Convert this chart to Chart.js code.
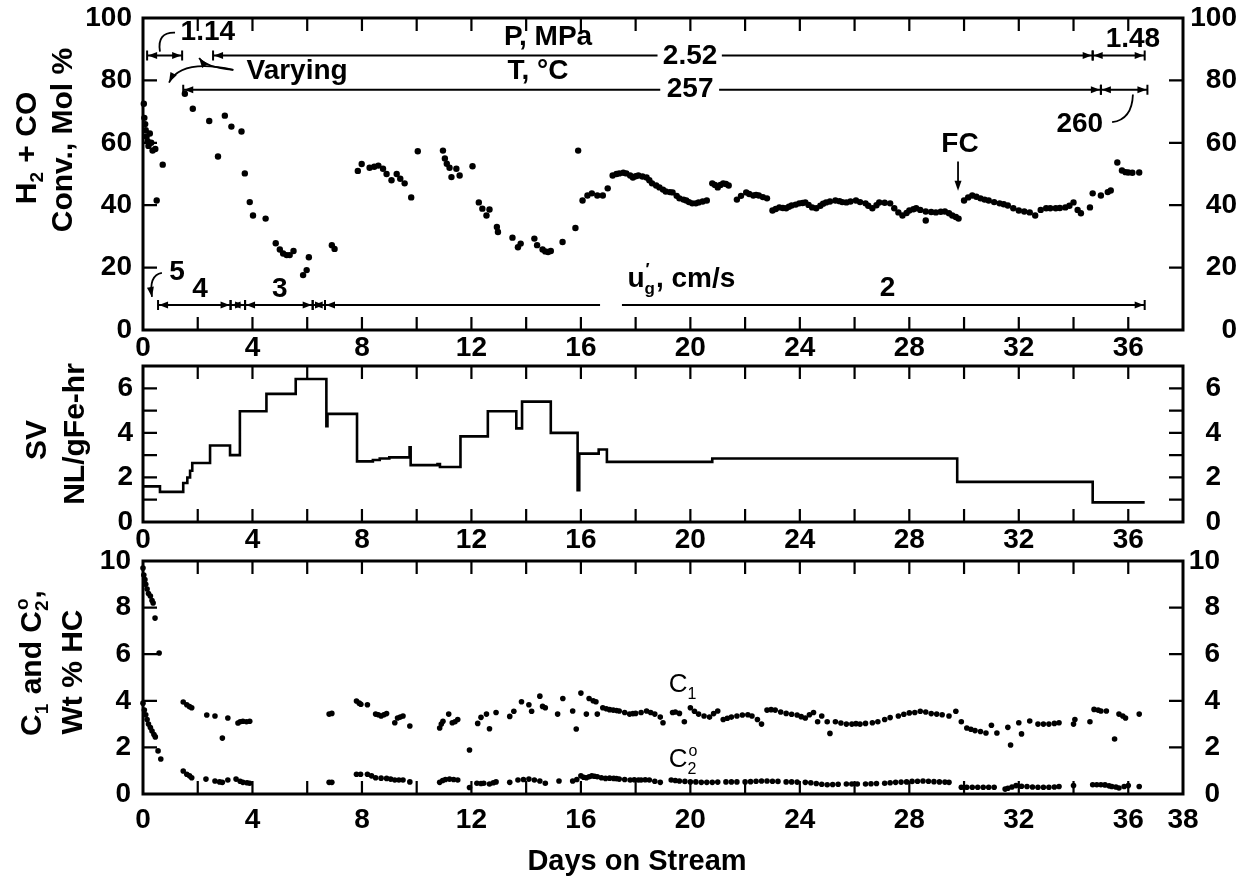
<!DOCTYPE html>
<html><head><meta charset="utf-8">
<script src="https://cdn.jsdelivr.net/npm/chart.js@4.4.1/dist/chart.umd.min.js"></script>
<style>
html,body{margin:0;padding:0;background:#fff;}
body{width:1255px;height:880px;position:relative;overflow:hidden;}
canvas{position:absolute;left:0;}
</style></head>
<body>
<canvas id="c1" width="1255" height="362" style="top:0px;width:1255px;height:362px"></canvas>
<canvas id="c2" width="1255" height="210" style="top:346px;width:1255px;height:210px"></canvas>
<canvas id="c3" width="1255" height="340" style="top:540px;width:1255px;height:340px"></canvas>
<script>
// ---------- DATA ----------
// Panel 1: H2 + CO conversion, mol %
const convDays = [0.03,0.05,0.08,0.1,0.13,0.17,0.2,0.25,0.3,0.35,0.45,0.5,0.72,1.53,1.82,2.42,2.74,2.99,3.23,3.6,3.72,3.9,4.02,4.48,4.85,5.0,5.12,5.25,5.36,5.5,5.85,5.98,6.06,6.9,7.0,7.85,7.99,8.28,8.45,8.6,8.77,8.9,9.08,9.27,9.4,9.56,9.8,10.04,10.96,11.03,11.1,11.2,11.27,11.45,11.57,12.04,12.27,12.4,12.55,12.66,12.93,12.97,13.5,13.7,13.8,14.3,14.4,14.6,14.7,14.8,14.9,15.33,15.8,15.9,16.06,16.24,16.4,16.6,16.8,16.98,17.16,17.3,17.4,17.55,17.66,17.8,17.9,18.0,18.1,18.25,18.4,18.5,18.6,18.75,18.87,19.0,19.1,19.25,19.35,19.5,19.6,19.75,19.85,19.95,20.07,20.2,20.3,20.45,20.6,20.8,20.9,21.0,21.1,21.2,21.3,21.4,21.7,21.85,22.04,22.15,22.3,22.4,22.5,22.65,22.8,23.0,23.12,23.25,23.38,23.5,23.6,23.7,23.85,23.98,24.1,24.2,24.32,24.45,24.6,24.75,24.85,24.96,25.1,25.3,25.45,25.55,25.7,25.85,26.05,26.2,26.4,26.5,26.65,26.8,26.9,27.1,27.3,27.45,27.6,27.75,27.9,28.0,28.15,28.25,28.4,28.6,28.6,28.8,28.97,29.15,29.3,29.45,29.57,29.7,29.8,30.0,30.15,30.3,30.45,30.6,30.75,30.9,31.1,31.3,31.45,31.6,31.8,32.0,32.2,32.4,32.6,32.8,33.0,33.15,33.35,33.5,33.7,33.85,34.0,34.15,34.27,34.6,34.7,35.0,35.25,35.36,35.6,35.77,35.9,36.0,36.15,36.4];
const convPct = [72.5,68,66,64,62,60.5,59,63,60,57.5,58,41.5,53,75.7,70.9,67,55.6,68.7,65.2,63.6,50.2,41,36.7,35.7,27.8,25.8,24.5,24,24,25.3,17.6,19.2,23.3,27.2,26,51,53.2,52,52.3,52.7,51.7,50,48,50,48.5,47,42.5,57.3,57.5,55,53.3,52,49,51.7,49.5,52.5,40.9,38.9,36.7,38.6,33,31.4,29.6,26.5,27.7,29.3,27.2,25.8,25.2,25,25.3,28.2,32.7,57.5,41.5,43.1,43.8,43.1,43.1,45.4,49.5,50,50.2,50.4,50.2,49.5,48.9,49.3,49.5,49.2,48.9,48,47,46.3,45.7,45,44.4,44.2,44.1,43,42.2,41.8,41.5,41,40.6,40.6,40.9,41.2,41.5,47,46.5,45.7,46.5,47,46.8,46.3,41.8,43,44.1,43.6,43.1,43.3,43.1,42.6,42.2,38.3,38.8,39.3,39.1,39,39.5,39.9,40.2,40.6,40.7,40.9,40.1,39.3,39,39.8,40.5,40.9,41.2,41.5,41.3,41,40.9,41.2,41.5,41,40.6,39.8,39,40,40.9,40.8,40.6,39,37.7,36.7,37.5,38.3,38.7,39,38.5,38,35.1,37.8,37.7,37.9,38,37.4,36.7,36.2,35.7,41.5,42.5,43.1,42.7,42.2,41.8,41.5,41,40.6,40.3,39.9,39,38.3,38,37.7,36.7,38.5,39,39,39,39.1,39.3,39.8,40.9,38.5,37.4,39.3,43.8,43.1,44.2,44.7,53.7,51.1,50.6,50.5,50.4,50.5];

// Panel 2: space velocity, NL/gFe-hr (each value holds until the next day listed)
const svDays = [0,0.62,1.47,1.62,1.72,1.8,2.45,3.18,3.54,4.51,5.58,6.7,6.74,7.82,8.4,8.65,9.0,9.74,9.78,10.76,10.85,11.6,12.6,13.64,13.85,14.9,15.88,15.94,16.65,16.95,20.8,29.75,34.7,36.6];
const svRate = [1.6,1.35,1.75,2.0,2.3,2.65,3.43,3.0,4.97,5.75,6.42,4.3,4.85,2.72,2.78,2.85,2.9,3.35,2.55,2.6,2.47,3.84,4.97,4.2,5.4,4.0,1.43,3.07,3.25,2.7,2.85,1.8,0.88,0.88];

// Panel 3: C1 and C2 paraffin, wt % HC
const c1Days = [0.0,0.03,0.07,0.1,0.15,0.2,0.27,0.33,0.37,0.44,0.59,1.47,1.6,1.7,1.78,2.33,2.63,2.9,3.1,3.47,3.55,3.65,3.78,3.9,6.8,6.9,7.8,7.9,7.96,8.2,8.5,8.6,8.7,8.8,8.9,9.2,9.3,9.4,9.5,9.75,10.84,10.9,10.96,11.17,11.3,11.4,11.5,11.93,12.23,12.35,12.55,12.66,12.9,13.4,13.55,13.83,14.1,14.2,14.5,14.6,14.7,15.15,15.34,15.7,15.83,16.0,16.2,16.3,16.45,16.55,16.6,16.8,16.93,17.05,17.18,17.3,17.4,17.6,17.78,17.9,18.0,18.2,18.4,18.55,18.7,18.9,19.0,19.35,19.45,19.6,19.78,20.0,20.15,20.3,20.5,20.7,20.85,21.0,21.2,21.35,21.5,21.7,21.9,22.1,22.25,22.45,22.6,22.8,22.95,23.1,23.3,23.5,23.7,23.9,24.05,24.2,24.35,24.5,24.65,24.8,25.0,25.1,25.3,25.5,25.7,25.9,26.05,26.2,26.4,26.65,26.85,27.1,27.3,27.6,27.8,28.0,28.2,28.4,28.6,28.8,29.0,29.2,29.45,29.7,29.9,30.1,30.25,30.4,30.6,30.8,31.0,31.2,31.6,31.7,32.0,32.1,32.4,32.7,32.9,33.1,33.3,33.47,34.0,34.05,34.6,34.75,34.9,35.0,35.2,35.5,35.66,35.8,35.9,36.4];
const c1Pct = [9.7,9.4,9.2,9.0,8.8,8.6,8.5,8.3,8.2,7.55,6.05,3.95,3.83,3.75,3.7,3.39,3.35,2.4,3.26,3.05,3.1,3.12,3.1,3.12,3.43,3.46,3.99,3.9,3.85,3.83,3.43,3.4,3.35,3.4,3.45,3.06,3.26,3.3,3.35,2.92,2.83,3.0,3.12,3.43,3.06,3.1,3.2,1.89,3.03,3.29,3.43,2.8,3.5,3.33,3.55,3.96,3.83,3.55,4.2,3.76,3.7,3.43,4.1,3.56,2.79,4.33,3.43,4.1,4.0,3.96,3.43,3.7,3.66,3.62,3.6,3.58,3.56,3.5,3.43,3.45,3.46,3.5,3.56,3.5,3.43,3.3,3.06,3.5,3.52,3.46,3.1,3.7,3.55,3.43,3.35,3.3,3.45,3.56,3.2,3.25,3.3,3.35,3.39,3.4,3.35,3.2,3.0,3.6,3.62,3.6,3.52,3.46,3.42,3.39,3.32,3.26,3.4,3.5,3.1,3.35,3.1,2.6,3.1,3.05,3.0,3.0,3.02,3.0,3.03,3.06,3.1,3.2,3.28,3.35,3.42,3.48,3.5,3.55,3.52,3.45,3.43,3.4,3.35,3.55,3.1,2.83,2.78,2.72,2.68,2.62,2.95,2.62,2.86,2.1,3.06,2.58,3.13,3.0,3.0,3.0,3.03,3.06,3.0,3.2,3.1,3.63,3.6,3.56,3.56,2.36,3.43,3.35,3.26,3.43];
const c2Days = [0.0,0.05,0.1,0.15,0.2,0.27,0.33,0.4,0.45,0.55,0.65,1.47,1.6,1.7,1.78,2.3,2.63,2.8,2.9,3.1,3.4,3.55,3.65,3.8,3.9,6.8,6.9,7.8,7.95,8.2,8.35,8.5,8.7,8.9,9.05,9.2,9.35,9.5,9.75,10.84,10.95,11.05,11.2,11.35,11.5,11.93,12.2,12.35,12.45,12.66,12.8,12.9,13.4,13.7,13.9,14.1,14.3,14.5,14.7,15.2,15.7,15.85,16.0,16.1,16.2,16.3,16.4,16.5,16.6,16.75,16.9,17.05,17.2,17.3,17.4,17.6,17.8,17.95,18.1,18.2,18.35,18.5,18.7,18.9,19.3,19.45,19.6,19.8,20.0,20.2,20.4,20.6,20.8,21.0,21.3,21.5,21.7,22.0,22.2,22.4,22.6,22.8,23.0,23.2,23.5,23.7,23.9,24.2,24.4,24.6,24.8,25.0,25.2,25.4,25.7,25.9,26.1,26.4,26.6,26.8,27.1,27.3,27.5,27.7,27.9,28.1,28.3,28.5,28.7,28.9,29.1,29.3,29.45,29.9,30.1,30.3,30.5,30.7,30.9,31.1,31.5,31.6,31.75,31.9,32.1,32.3,32.5,32.7,32.9,33.1,33.3,33.47,34.0,34.7,34.85,35.0,35.15,35.3,35.4,35.55,35.66,35.85,36.0,36.4];
const c2Pct = [3.9,3.6,3.4,3.2,3.0,2.85,2.7,2.55,2.45,1.85,1.5,0.99,0.85,0.78,0.7,0.64,0.56,0.52,0.5,0.6,0.64,0.55,0.5,0.48,0.46,0.5,0.5,0.85,0.85,0.85,0.78,0.7,0.68,0.67,0.64,0.6,0.6,0.6,0.52,0.5,0.58,0.62,0.64,0.62,0.6,0.28,0.46,0.45,0.46,0.43,0.48,0.52,0.5,0.6,0.62,0.64,0.6,0.56,0.46,0.56,0.56,0.62,0.78,0.72,0.7,0.74,0.78,0.76,0.74,0.7,0.67,0.68,0.67,0.66,0.64,0.62,0.6,0.61,0.6,0.6,0.61,0.6,0.55,0.5,0.6,0.58,0.56,0.54,0.52,0.52,0.5,0.5,0.5,0.51,0.52,0.52,0.52,0.52,0.53,0.55,0.56,0.56,0.55,0.54,0.52,0.52,0.51,0.5,0.48,0.45,0.42,0.4,0.41,0.42,0.43,0.43,0.43,0.43,0.44,0.45,0.46,0.48,0.5,0.51,0.52,0.54,0.55,0.56,0.55,0.53,0.52,0.51,0.5,0.29,0.29,0.29,0.29,0.29,0.29,0.29,0.21,0.25,0.3,0.36,0.33,0.32,0.3,0.29,0.29,0.29,0.3,0.32,0.36,0.4,0.4,0.4,0.39,0.35,0.32,0.3,0.26,0.32,0.36,0.32];

// Tick values and labels
const dayTicks = [0,2,4,6,8,10,12,14,16,18,20,22,24,26,28,30,32,34,36,38];
const dayLabels = [0,4,8,12,16,20,24,28,32,36];
const dayLabelsBottom = [0,4,8,12,16,20,24,28,32,36,38];
const convTicks = [0,20,40,60,80,100];
const svTicks = [0,1,2,3,4,5,6,7];
const svLabels = [0,2,4,6];
const hcTicks = [0,2,4,6,8,10];

// ---------- RENDERING ----------
const FONT = "'Liberation Sans', Arial, Helvetica, sans-serif";
Chart.defaults.font.family = FONT;
Chart.defaults.color = '#000';
Chart.defaults.animation = false;

const pts = (xs, ys) => xs.map((x, i) => ({x, y: ys[i]}));

function xScale(h, pad, labels) {
  return {
    type: 'linear', position: 'bottom', min: 0, max: 38,
    afterBuildTicks: s => { s.ticks = dayTicks.map(v => ({value: v})); },
    ticks: {autoSkip: false, maxRotation: 0, minRotation: 0, padding: pad, color: '#000',
      font: {size: 28, weight: 'bold'},
      callback: v => labels.includes(v) ? String(v) : ''},
    grid: {display: false, drawTicks: false}, border: {display: false},
    afterFit: s => { s.height = h; s.paddingLeft = 0; s.paddingRight = 0; s.paddingTop = 0; s.paddingBottom = 0; }
  };
}
function yScale(pos, min, max, tickVals, labelVals, w, pad) {
  return {
    type: 'linear', position: pos, min, max,
    afterBuildTicks: s => { s.ticks = tickVals.map(v => ({value: v})); },
    ticks: {autoSkip: false, padding: pad, crossAlign: pos === 'right' ? 'far' : 'near', color: '#000',
      font: {size: 28, weight: 'bold'},
      callback: v => labelVals.includes(v) ? String(v) : ''},
    grid: {display: false, drawTicks: false}, border: {display: false},
    afterFit: s => { s.width = w; s.paddingTop = 0; s.paddingBottom = 0; s.paddingLeft = 0; s.paddingRight = 0; }
  };
}

function head(c, x, y, ang, L = 11, W = 4) {
  c.beginPath();
  c.moveTo(x, y);
  c.lineTo(x - L * Math.cos(ang) + W * Math.sin(ang), y - L * Math.sin(ang) - W * Math.cos(ang));
  c.lineTo(x - L * Math.cos(ang) - W * Math.sin(ang), y - L * Math.sin(ang) + W * Math.cos(ang));
  c.closePath(); c.fill();
}
function txt(c, s, x, y, size = 28, weight = 'bold', align = 'center') {
  c.font = `${weight} ${size}px ${FONT}`;
  c.textAlign = align; c.textBaseline = 'middle';
  c.fillText(s, x, y);
}
// rich text with subscripts / superscripts, centered at origin (cap-centered)
function rich(c, pieces, size, weight, align = 'center') {
  const small = Math.round(size * 0.62);
  const f = s => `${weight} ${s}px ${FONT}`;
  const widths = pieces.map(p => {
    if (p[1] === 'n') { c.font = f(size); return c.measureText(p[0]).width; }
    c.font = f(small);
    let w = c.measureText(p[0]).width;
    if (p[2]) w = Math.max(w, c.measureText(p[2]).width);
    return w + 1;
  });
  const total = widths.reduce((a, b) => a + b, 0);
  let x = align === 'center' ? -total / 2 : 0;
  const base = size * 0.36;
  c.textAlign = 'left'; c.textBaseline = 'alphabetic';
  pieces.forEach((p, i) => {
    if (p[1] === 'n') { c.font = f(size); c.fillText(p[0], x, base); }
    else {
      c.font = f(small);
      c.fillText(p[0], x, base + size * 0.25);
      if (p[2]) c.fillText(p[2], x + 1, base - size * 0.42);
    }
    x += widths[i];
  });
}
function vtitle(c, pieces, x, y, size = 30) {
  c.save(); c.translate(x, y); c.rotate(-Math.PI / 2);
  rich(c, pieces, size, 'bold'); c.restore();
}

function decor(extra) {
  return {
    id: 'decor',
    afterDraw(chart) {
      const c = chart.ctx, a = chart.chartArea, xs = chart.scales.x, ys = chart.scales.y;
      c.save();
      c.strokeStyle = '#000'; c.fillStyle = '#000'; c.lineWidth = 2.2;
      c.beginPath();
      xs.ticks.forEach(t => {
        if (t.value <= xs.min || t.value >= xs.max) return;
        const p = xs.getPixelForValue(t.value);
        c.moveTo(p, a.top); c.lineTo(p, a.top + 13);
        c.moveTo(p, a.bottom); c.lineTo(p, a.bottom - 13);
      });
      ys.ticks.forEach(t => {
        if (t.value <= ys.min || t.value >= ys.max) return;
        const p = ys.getPixelForValue(t.value);
        c.moveTo(a.left, p); c.lineTo(a.left + 14, p);
        c.moveTo(a.right, p); c.lineTo(a.right - 14, p);
      });
      c.stroke();
      c.lineWidth = 3;
      c.strokeRect(a.left, a.top, a.right - a.left, a.bottom - a.top);
      if (extra) extra(chart, c, xs, ys);
      c.restore();
    }
  };
}

function makeChart(id, padTop, padRight, datasets, xs, yl, yr, extra) {
  return new Chart(document.getElementById(id), {
    type: 'scatter',
    data: {datasets},
    options: {
      responsive: false, animation: false, devicePixelRatio: 1,
      layout: {padding: {top: padTop, left: 0, right: padRight, bottom: 0}},
      plugins: {legend: {display: false}, tooltip: {enabled: false}},
      scales: {x: xs, y: yl, y2: yr}
    },
    plugins: [decor(extra)]
  });
}

// dimension line with arrowheads and end bars
function dimLine(c, X, Y, segs, v, gaps) {
  const y = Y(v);
  segs.forEach(([a, b]) => {
    const x1 = X(a), x2 = X(b);
    let pieces = [[x1, x2]];
    gaps.forEach(([g1, g2]) => {
      const gx1 = X(g1), gx2 = X(g2);
      const np = [];
      pieces.forEach(([p1, p2]) => {
        if (gx2 <= p1 || gx1 >= p2) np.push([p1, p2]);
        else { if (gx1 > p1) np.push([p1, gx1]); if (gx2 < p2) np.push([gx2, p2]); }
      });
      pieces = np;
    });
    c.beginPath();
    pieces.forEach(([p1, p2]) => { c.moveTo(p1, y); c.lineTo(p2, y); });
    c.moveTo(x1, y - 5); c.lineTo(x1, y + 5);
    c.moveTo(x2, y - 5); c.lineTo(x2, y + 5);
    c.stroke();
    head(c, x1 + 1, y, Math.PI, 9, 3.5);
    head(c, x2 - 1, y, 0, 9, 3.5);
  });
}
function curve(c, X, Y, p0, pc, p1, arrow) {
  c.beginPath();
  c.moveTo(X(p0[0]), Y(p0[1]));
  c.quadraticCurveTo(X(pc[0]), Y(pc[1]), X(p1[0]), Y(p1[1]));
  c.stroke();
  if (arrow) {
    const ang = Math.atan2(Y(p1[1]) - Y(pc[1]), X(p1[0]) - X(pc[0]));
    head(c, X(p1[0]), Y(p1[1]), ang, 10, 3.5);
  }
}

// ---- Panel 1 ----
makeChart('c1', 18, 18,
  [{data: pts(convDays, convPct), pointRadius: 3.2, pointBackgroundColor: '#000', pointBorderWidth: 0, showLine: false, clip: false}],
  xScale(32, 1, dayLabels),
  yScale('left', 0, 100, convTicks, convTicks, 143, 11),
  yScale('right', 0, 100, convTicks, convTicks, 54, 9),
  (chart, c, xs, ys) => {
    const X = v => xs.getPixelForValue(v), Y = v => ys.getPixelForValue(v);
    c.lineWidth = 2;
    dimLine(c, X, Y, [[0.15, 1.43]], 88, []);
    dimLine(c, X, Y, [[2.56, 34.7], [34.7, 36.6]], 88, [[18.8, 21.15]]);
    dimLine(c, X, Y, [[1.47, 35.0], [35.0, 36.7]], 77, [[18.9, 21.05]]);
    dimLine(c, X, Y, [[0.55, 3.2], [3.2, 3.73], [3.73, 6.2], [6.2, 6.65], [6.65, 36.6]], 8, [[16.7, 17.5]]);
    txt(c, 'P, MPa', X(14.8), Y(93.9));
    txt(c, 'T, °C', X(14.43), Y(83));
    txt(c, '1.14', X(2.37), Y(95.5));
    txt(c, 'Varying', X(5.63), Y(83));
    txt(c, '2.52', X(19.99), Y(87.8));
    txt(c, '257', X(19.99), Y(77.2));
    txt(c, '1.48', X(36.17), Y(93.2));
    txt(c, '260', X(34.23), Y(65.9));
    txt(c, 'FC', X(29.85), Y(59.5));
    txt(c, '2', X(27.2), Y(13.5));
    txt(c, '5', X(1.24), Y(18.6));
    txt(c, '4', X(2.08), Y(12.9));
    txt(c, '3', X(5.0), Y(12.9));
    c.save(); c.translate(X(17.7), Y(17));
    rich(c, [['u', 'n'], ['g', 's', '′'], [', cm/s', 'n']], 28, 'bold', 'left');
    c.restore();
    c.lineWidth = 1.8;
    curve(c, X, Y, [1.17, 95.3], [0.5, 95.5], [0.62, 89.2], false);
    curve(c, X, Y, [3.3, 83.4], [2.3, 84.2], [2.05, 87.2], true);
    curve(c, X, Y, [3.3, 83.4], [1.4, 87], [0.95, 79.3], true);
    curve(c, X, Y, [35.41, 66.6], [36.14, 67.5], [36.17, 75.5], false);
    curve(c, X, Y, [0.69, 18.3], [0.2, 17.5], [0.33, 10.6], true);
    c.beginPath(); c.moveTo(X(29.78), Y(54)); c.lineTo(X(29.78), Y(45.5)); c.stroke();
    head(c, X(29.78), Y(44.6), Math.PI / 2, 10, 3.5);
    c.fillStyle = '#000';
    vtitle(c, [['H', 'n'], ['2', 's'], [' + CO', 'n']], 25, 148);
    vtitle(c, [['Conv., Mol %', 'n']], 61, 140);
  });

// ---- Panel 2 ----
const OFF2 = 346, OFF3 = 540;
makeChart('c2', 366 - OFF2, 34,
  [{data: pts(svDays, svRate), showLine: true, stepped: 'before', borderColor: '#000', borderWidth: 2.6,
    pointRadius: 0, fill: false, clip: false}],
  xScale(556 - 522, 1, dayLabels),
  yScale('left', 0, 7, svTicks, svLabels, 143, 10),
  yScale('right', 0, 7, svTicks, svLabels, 38, 10),
  (chart, c) => {
    vtitle(c, [['SV', 'n']], 35, 440 - OFF2);
    vtitle(c, [['NL/gFe-hr', 'n']], 73, 434 - OFF2);
  });

// ---- Panel 3 ----
makeChart('c3', 561 - OFF3, 35,
  [{data: pts(c1Days, c1Pct), pointRadius: 2.8, pointBackgroundColor: '#000', pointBorderWidth: 0, showLine: false, clip: false},
   {data: pts(c2Days, c2Pct), pointRadius: 2.8, pointBackgroundColor: '#000', pointBorderWidth: 0, showLine: false, clip: false}],
  xScale(880 - 794, 9, dayLabelsBottom),
  yScale('left', 0, 10, hcTicks, hcTicks, 143, 12),
  yScale('right', 0, 10, hcTicks, hcTicks, 37, 8),
  (chart, c, xs, ys) => {
    const X = v => xs.getPixelForValue(v), Y = v => ys.getPixelForValue(v);
    c.save(); c.translate(X(19.73), Y(4.76));
    rich(c, [['C', 'n'], ['1', 's']], 26, 'normal'); c.restore();
    c.save(); c.translate(X(19.73), Y(1.55));
    rich(c, [['C', 'n'], ['2', 's', 'o']], 26, 'normal'); c.restore();
    vtitle(c, [['C', 'n'], ['1', 's'], [' and C', 'n'], ['2', 's', 'o'], [',', 'n']], 30, 663 - OFF3);
    vtitle(c, [['Wt % HC', 'n']], 71, 672 - OFF3);
    txt(c, 'Days on Stream', 637, 862 - OFF3, 29);
  });
</script>
</body></html>
